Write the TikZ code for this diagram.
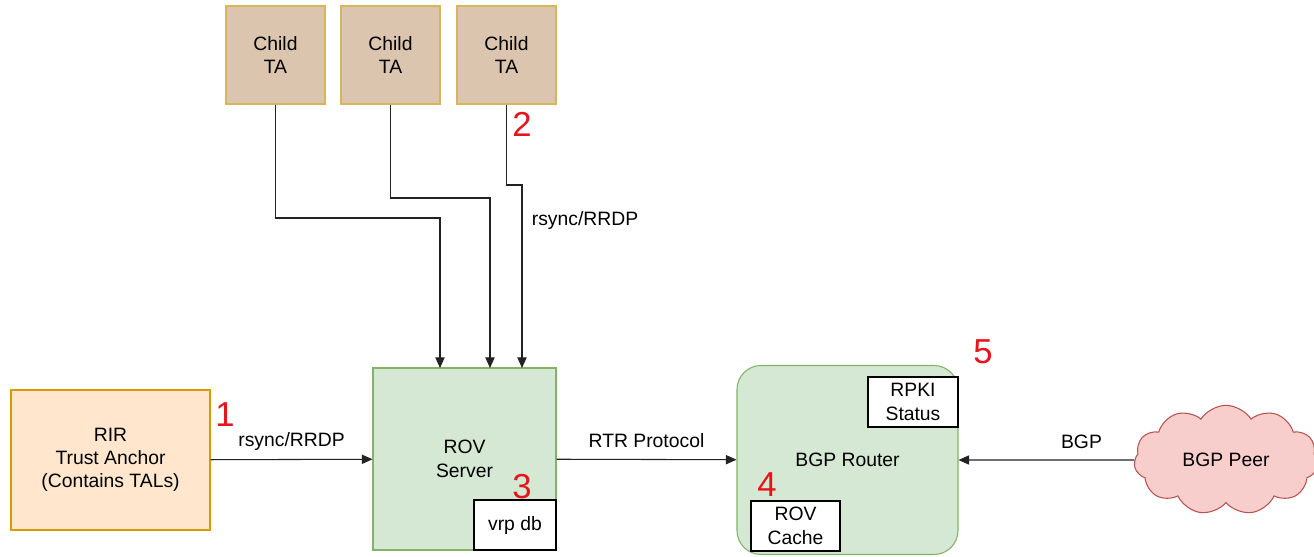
\documentclass[tikz,border=0pt]{standalone}
\usepackage{fontspec}
\setmainfont{Liberation Sans}
\usetikzlibrary{arrows.meta,shapes.symbols}
\definecolor{childfill}{HTML}{DCC5AE}
\definecolor{childline}{HTML}{D6B656}
\definecolor{rirfill}{HTML}{FFE6CC}
\definecolor{rirline}{HTML}{D79B00}
\definecolor{rovfill}{HTML}{D5E8D4}
\definecolor{rovline}{HTML}{82B366}
\definecolor{peerfill}{HTML}{F8CECC}
\definecolor{peerline}{HTML}{B85450}
\definecolor{linegray}{HTML}{222222}
\definecolor{stepred}{HTML}{E8141B}
\newcommand{\lblfont}{\fontsize{14.5}{17.5}\selectfont}

\tikzset{
	unit/.style={draw, line width=0.8pt, align=center, font=\lblfont, inner sep=0pt},
	childbox/.style={unit, fill=childfill, draw=childline, minimum width=74.25pt, minimum height=73.5pt},
	innerbox/.style={unit, fill=white, draw=black},
	flow/.style={draw=linegray, line width=0.8pt, -{Triangle[length=8pt,width=7pt]}},
	linklbl/.style={font=\lblfont, text=black},
	steplbl/.style={font=\fontsize{26}{26}\selectfont, text=stepred}
}

\begin{document}
\begin{tikzpicture}[x=0.75pt,y=-0.75pt]
	% Fixed white canvas
	\path[use as bounding box] (0,0) rectangle (1314,557);
	\fill[white] (0,0) rectangle (1314,557);

	% Child trust anchors
	\node[childbox] (child1) at (275.5,55) {Child\\TA};
	\node[childbox] (child2) at (390.5,55) {Child\\TA};
	\node[childbox] (child3) at (506.5,55) {Child\\TA};

	% Main boxes
	\node[unit, fill=rirfill, draw=rirline, minimum width=149.25pt, minimum height=105pt]
		(rir) at (110.5,460) {RIR\\Trust Anchor\\(Contains TALs)};
	\node[unit, fill=rovfill, draw=rovline, minimum width=137.25pt, minimum height=136.5pt]
		(rov) at (464.5,459) {ROV\\Server};
	\node[unit, fill=rovfill, draw=rovline, rounded corners=18pt, minimum width=165.75pt, minimum height=141.75pt]
		(router) at (847.5,460) {BGP Router};
	\node[cloud, cloud puffs=11, cloud puff arc=115, aspect=1.7, draw=peerline, fill=peerfill,
		line width=0.8pt, font=\lblfont, minimum width=138pt, minimum height=82pt, inner sep=0pt]
		(peer) at (1226,460) {BGP Peer};

	% Inner boxes
	\node[innerbox, minimum width=61.5pt, minimum height=37.5pt] (vrp) at (515,525) {vrp db};
	\node[innerbox, minimum width=67.5pt, minimum height=37.5pt] (rpki) at (913,402) {RPKI\\Status};
	\node[innerbox, minimum width=66.75pt, minimum height=37.5pt] (cache) at (795.5,526) {ROV\\Cache};

	% Entry points on the ROV server
	\coordinate (in1) at (440,368);
	\coordinate (in2) at (490,368);
	\coordinate (in3) at (522,368);
	\coordinate (bend1) at (440,218);
	\coordinate (bend2) at (490,198);
	\coordinate (bend3) at (522,185);

	% Repository fetches
	\draw[flow] (child1.south) |- (bend1) -- (in1);
	\draw[flow] (child2.south) |- (bend2) -- (in2);
	\draw[flow] (child3.south) |- (bend3) -- (in3);
	\node[linklbl] (fetchlbl) at (585,220) {rsync/RRDP};

	% Horizontal links
	\draw[flow] (rir) -- (rov) node[linklbl, midway, above=3pt] (tallbl) {rsync/RRDP};
	\draw[flow] (rov) -- (router) node[linklbl, midway, above=5pt] (rtrlbl) {RTR Protocol};
	\draw[flow] (peer) -- (router) node[linklbl, pos=0.3, above=5pt] (bgplbl) {BGP};

	% Step numbers
	\node[steplbl] (s1) at (225,415) {1};
	\node[steplbl] (s2) at (522,124) {2};
	\node[steplbl] (s3) at (522,487) {3};
	\node[steplbl] (s4) at (767,485) {4};
	\node[steplbl] (s5) at (983,352) {5};
\end{tikzpicture}
\end{document}
